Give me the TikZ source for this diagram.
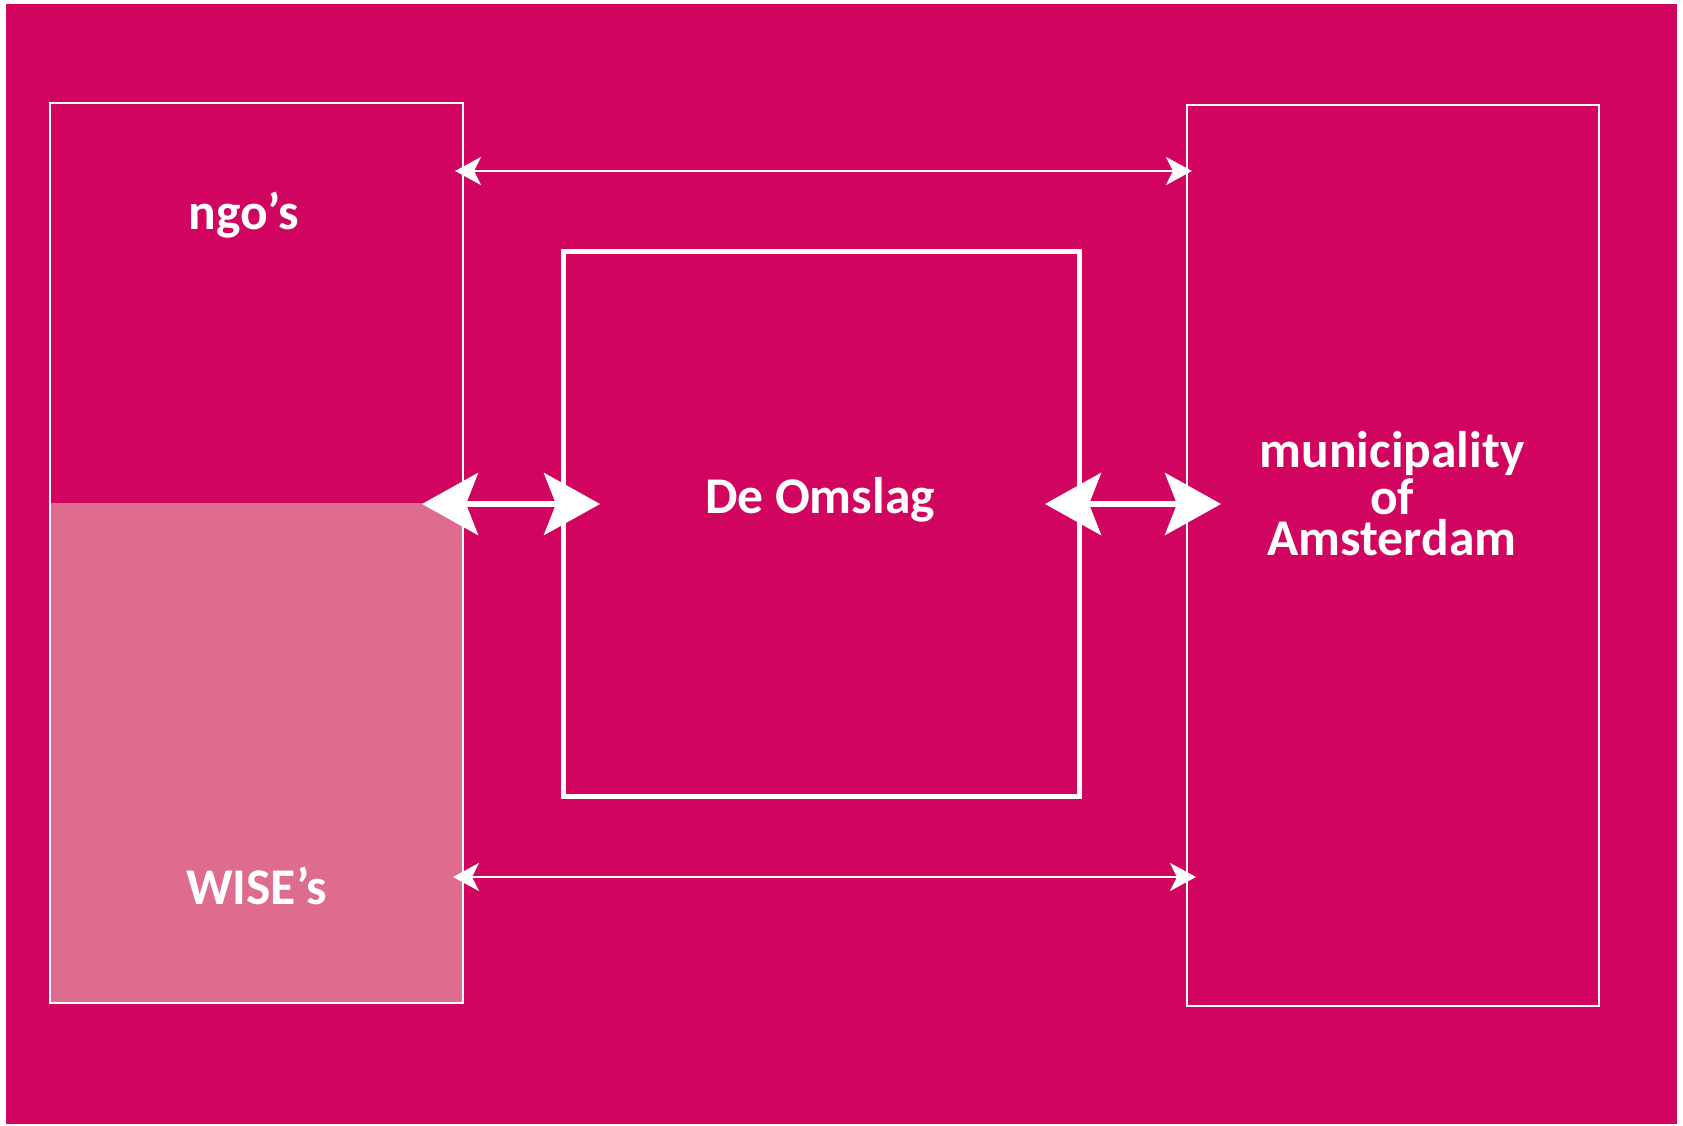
\documentclass[tikz,border=0pt]{standalone}
\usepackage{fontspec}
\setmainfont{Carlito}
\usetikzlibrary{arrows.meta}
\definecolor{magentabg}{RGB}{209,5,96}
\definecolor{pinkfill}{RGB}{221,108,142}
\tikzset{
  thinbox/.style={draw=white, line width=0.8pt, fill=none, inner sep=0pt},
  thickbox/.style={draw=white, line width=2pt, inner sep=0pt},
  lbl/.style={text=white, font=\bfseries\fontsize{20.6pt}{16.4pt}\selectfont, inner sep=0pt, align=center},
  thinarrow/.style={draw=white, line width=1pt,
    {Stealth[length=10.4pt,width=11.2pt,inset=2.8pt]}-{Stealth[length=10.4pt,width=11.2pt,inset=2.8pt]}},
  thickarrow/.style={draw=white, line width=2.4pt,
    {Stealth[length=22.4pt,width=24.8pt,inset=4.8pt]}-{Stealth[length=22.4pt,width=24.8pt,inset=4.8pt]}}
}
\begin{document}
\begin{tikzpicture}[x=0.4pt,y=-0.4pt]
\useasboundingbox (0,0) rectangle (1683,1125);
\fill[white] (0,0) rectangle (1683,1125);
\fill[magentabg] (6,4) rectangle (1677,1124);
% pink lower half of left box
\fill[pinkfill] (50,503) rectangle (463,1003);
% boxes
\node[thinbox, minimum width=165.2pt, minimum height=360pt] (L) at (256.5,553) {};
\node[thinbox, minimum width=164.8pt, minimum height=360.4pt] (R) at (1393,555.5) {};
\node[thickbox, minimum width=206.4pt, minimum height=217.6pt] (C) at (821.5,524) {};
% labels
\node[lbl, anchor=base] (ngo) at (243.5,229) {ngo’s};
\node[lbl, anchor=base] (wise) at (256.5,904) {WISE’s};
\node[lbl, anchor=base] (omslag) at (820,513) {De Omslag};
\node[lbl, anchor=base] (muni) at (1392,555) {municipality\\of\\Amsterdam};
% coordinates on arrow levels
\coordinate (ytop) at (0,171);
\coordinate (ybot) at (0,877);
\coordinate (ymid) at (0,504);
% thin arrows
\draw[thinarrow, shorten <=-3.6pt, shorten >=-2.4pt] (L.east |- ytop) -- (R.west |- ytop);
\draw[thinarrow, shorten <=-4.4pt, shorten >=-4pt] (L.east |- ybot) -- (R.west |- ybot);
% thick arrows
\draw[thickarrow, shorten <=-16.8pt, shorten >=-15.6pt] (L.east |- ymid) -- (C.west |- ymid);
\draw[thickarrow, shorten <=-14.8pt, shorten >=-14pt] (C.east |- ymid) -- (R.west |- ymid);
\end{tikzpicture}
\end{document}
